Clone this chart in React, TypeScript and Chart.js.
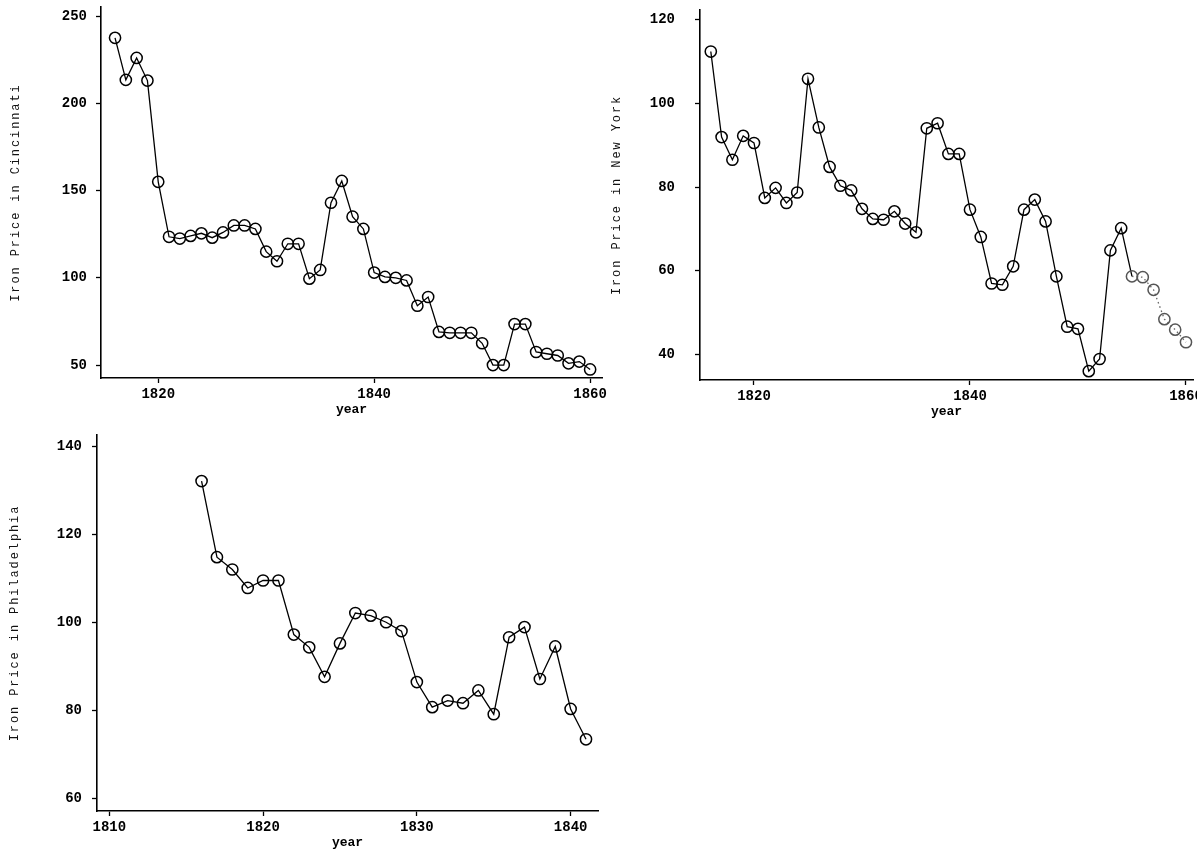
import React, { useEffect, useRef } from "react";
import { Chart, registerables } from "chart.js";

Chart.register(...registerables);

// Annual iron prices, 1816-1860 (Cincinnati, New York) and 1816-1841 (Philadelphia)
const cincinnatiYears = [
  1816, 1817, 1818, 1819, 1820, 1821, 1822, 1823, 1824, 1825, 1826, 1827, 1828, 1829, 1830,
  1831, 1832, 1833, 1834, 1835, 1836, 1837, 1838, 1839, 1840, 1841, 1842, 1843, 1844, 1845,
  1846, 1847, 1848, 1849, 1850, 1851, 1852, 1853, 1854, 1855, 1856, 1857, 1858, 1859, 1860,
];
const cincinnatiPrices = [
  237.5, 213.4, 226, 213, 155, 123.5, 122.5, 124, 125.5, 123, 126, 130, 130, 128, 115,
  109.5, 119.5, 119.5, 99.5, 104.5, 143, 155.5, 135, 128, 103, 100.5, 100, 98.5, 84, 89,
  69, 68.5, 68.5, 68.5, 62.5, 50, 50, 73.5, 73.5, 57.5, 56.5, 55.5, 51, 52, 47.5,
];

const newYorkYears = [
  1816, 1817, 1818, 1819, 1820, 1821, 1822, 1823, 1824, 1825, 1826, 1827, 1828, 1829, 1830,
  1831, 1832, 1833, 1834, 1835, 1836, 1837, 1838, 1839, 1840, 1841, 1842, 1843, 1844, 1845,
  1846, 1847, 1848, 1849, 1850, 1851, 1852, 1853, 1854, 1855, 1856, 1857, 1858, 1859, 1860,
];
const newYorkPrices = [
  112.3, 91.9, 86.5, 92.2, 90.5, 77.4, 79.8, 76.2, 78.7, 105.8, 94.2, 84.8, 80.3, 79.2, 74.8,
  72.4, 72.2, 74.2, 71.3, 69.2, 94.0, 95.2, 87.9, 87.9, 74.6, 68.1, 57.0, 56.7, 61.1, 74.6,
  77.0, 71.8, 58.7, 46.7, 46.2, 36.1, 39.0, 64.9, 70.2, 58.7, 58.5, 55.5, 48.5, 46, 43,
];

const philadelphiaYears = [
  1816, 1817, 1818, 1819, 1820, 1821, 1822, 1823, 1824, 1825, 1826, 1827, 1828,
  1829, 1830, 1831, 1832, 1833, 1834, 1835, 1836, 1837, 1838, 1839, 1840, 1841,
];
const philadelphiaPrices = [
  132.2, 114.9, 112.1, 107.9, 109.6, 109.6, 97.3, 94.4, 87.7, 95.3, 102.2, 101.6, 100.1,
  98.1, 86.5, 80.8, 82.3, 81.7, 84.6, 79.2, 96.7, 99.0, 87.2, 94.6, 80.4, 73.5,
];

const cincinnatiYTicks = [50, 100, 150, 200, 250];
const newYorkYTicks = [40, 60, 80, 100, 120];
const philadelphiaYTicks = [60, 80, 100, 120, 140];
const wideYearTicks = [1820, 1840, 1860];
const shortYearTicks = [1810, 1820, 1830, 1840];

const MONO = '"Liberation Mono", "DejaVu Sans Mono", monospace';

// Draws the letter-spaced rotated y title and the "year" caption under the axis.
const axisTitles = {
  id: "axisTitles",
  afterDraw(chart: any, _args: any, opts: any) {
    const { ctx, chartArea } = chart;
    ctx.save();
    ctx.fillStyle = "#111";
    ctx.font = `12px ${MONO}`;
    (ctx as any).letterSpacing = "1.9px";
    ctx.translate(opts.yTitleX, (chartArea.top + chartArea.bottom) / 2);
    ctx.rotate(-Math.PI / 2);
    ctx.textAlign = "center";
    ctx.textBaseline = "middle";
    ctx.fillText(opts.yTitle, 0, 0);
    ctx.restore();

    ctx.save();
    ctx.fillStyle = "#000";
    ctx.font = `bold 13px ${MONO}`;
    ctx.textAlign = "center";
    ctx.textBaseline = "middle";
    ctx.fillText("year", (chartArea.left + chartArea.right) / 2, chartArea.bottom + 32);
    ctx.restore();
  },
};

type PanelProps = {
  left: number;
  top: number;
  width: number;
  height: number;
  years: number[];
  prices: number[];
  xMin: number;
  xMax: number;
  xTicks: number[];
  yMin: number;
  yMax: number;
  yTicks: number[];
  yTitle: string;
  yTitleX: number;
  yAxisWidth: number;
  xAxisHeight: number;
  padTop: number;
  padRight: number;
  yLabelPad: number;
  fadeFrom?: number;
};

function PricePanel(p: PanelProps) {
  const ref = useRef<HTMLCanvasElement | null>(null);

  useEffect(() => {
    if (!ref.current) return;
    const faded = (year: number) => p.fadeFrom !== undefined && year >= p.fadeFrom;
    const chart = new Chart(ref.current, {
      type: "line",
      data: {
        datasets: [
          {
            data: p.years.map((y, i) => ({ x: y, y: p.prices[i] })),
            borderColor: "#000",
            borderWidth: 1.3,
            pointRadius: 5.6,
            pointBorderWidth: 1.5,
            pointBorderColor: (c: any) => (c.raw && faded(c.raw.x) ? "#555" : "#000"),
            pointBackgroundColor: "rgba(0,0,0,0)",
            pointHoverRadius: 5.6,
            tension: 0,
            clip: false,
            segment: {
              borderColor: (c: any) => (faded(c.p0.parsed.x) ? "#666" : undefined),
              borderDash: (c: any) => (faded(c.p0.parsed.x) ? [1.5, 3] : undefined),
            },
          } as any,
        ],
      },
      options: {
        animation: false,
        responsive: false,
        maintainAspectRatio: false,
        devicePixelRatio: 1,
        layout: { padding: { top: p.padTop, right: p.padRight, left: 0, bottom: 0 } },
        plugins: {
          legend: { display: false },
          tooltip: { enabled: false },
          axisTitles: { yTitle: p.yTitle, yTitleX: p.yTitleX },
        } as any,
        scales: {
          x: {
            type: "linear",
            min: p.xMin,
            max: p.xMax,
            afterBuildTicks: (s: any) => {
              s.ticks = p.xTicks.map((v) => ({ value: v }));
            },
            afterFit: (s: any) => {
              s.height = p.xAxisHeight;
              s.paddingLeft = 0;
              s.paddingRight = 0;
            },
            ticks: {
              autoSkip: false,
              maxRotation: 0,
              padding: 3,
              color: "#000",
              font: { family: MONO, size: 14, weight: "bold" },
              callback: (v: any) => String(v),
            },
            grid: {
              display: true,
              drawOnChartArea: false,
              drawTicks: true,
              tickLength: 5,
              tickWidth: 1.3,
              color: "#000",
            },
            border: { display: true, color: "#000", width: 1.6 },
          },
          y: {
            type: "linear",
            min: p.yMin,
            max: p.yMax,
            afterBuildTicks: (s: any) => {
              s.ticks = p.yTicks.map((v) => ({ value: v }));
            },
            afterFit: (s: any) => {
              s.width = p.yAxisWidth;
              s.paddingTop = 0;
              s.paddingBottom = 0;
            },
            ticks: {
              autoSkip: false,
              padding: p.yLabelPad,
              color: "#000",
              font: { family: MONO, size: 14, weight: "bold" },
              callback: (v: any) => String(v),
            },
            grid: {
              display: true,
              drawOnChartArea: false,
              drawTicks: true,
              tickLength: 5,
              tickWidth: 1.3,
              color: "#000",
            },
            border: { display: true, color: "#000", width: 1.6 },
          },
        },
      } as any,
      plugins: [axisTitles],
    });
    return () => chart.destroy();
  }, []);

  return (
    <div style={{ position: "absolute", left: p.left, top: p.top, width: p.width, height: p.height }}>
      <canvas
        ref={ref}
        width={p.width}
        height={p.height}
        style={{ display: "block", width: p.width, height: p.height }}
      />
    </div>
  );
}

export default function App() {
  return (
    <div
      style={{
        position: "absolute",
        left: 0,
        top: 0,
        width: 1197,
        height: 853,
        overflow: "hidden",
        background: "#fff",
      }}
    >
      <PricePanel
        left={0}
        top={0}
        width={620}
        height={430}
        years={cincinnatiYears}
        prices={cincinnatiPrices}
        xMin={1814.7}
        xMax={1861.1}
        xTicks={wideYearTicks}
        yMin={42.6}
        yMax={255.1}
        yTicks={cincinnatiYTicks}
        yTitle="Iron Price in Cincinnati"
        yTitleX={16}
        yAxisWidth={101}
        xAxisHeight={52}
        padTop={5}
        padRight={18}
        yLabelPad={9}
      />
      <PricePanel
        left={600}
        top={0}
        width={620}
        height={430}
        years={newYorkYears}
        prices={newYorkPrices}
        xMin={1815.0}
        xMax={1860.65}
        xTicks={wideYearTicks}
        yMin={34.0}
        yMax={122.2}
        yTicks={newYorkYTicks}
        yTitle="Iron Price in New York"
        yTitleX={17}
        yAxisWidth={100}
        xAxisHeight={50}
        padTop={10}
        padRight={27}
        yLabelPad={20}
        fadeFrom={1855}
      />
      <PricePanel
        left={0}
        top={420}
        width={620}
        height={433}
        years={philadelphiaYears}
        prices={philadelphiaPrices}
        xMin={1809.2}
        xMax={1841.78}
        xTicks={shortYearTicks}
        yMin={57.2}
        yMax={142.67}
        yTicks={philadelphiaYTicks}
        yTitle="Iron Price in Philadelphia"
        yTitleX={15}
        yAxisWidth={97}
        xAxisHeight={42}
        padTop={15}
        padRight={22}
        yLabelPad={10}
      />
    </div>
  );
}
